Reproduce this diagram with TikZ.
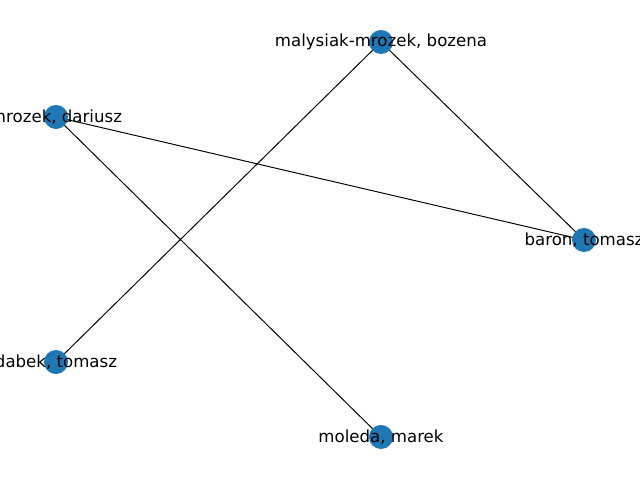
\documentclass[tikz,border=0pt]{standalone}
\usepackage{fontspec}
\setmainfont{DejaVu Sans}
\definecolor{nodeblue}{HTML}{1F77B4}
\begin{document}
\begin{tikzpicture}[x=0.01in,y=-0.01in,
    person/.style={circle,fill=nodeblue,minimum size=0.24in,inner sep=0pt},
    personlabel/.style={font=\fontsize{12}{14}\selectfont,inner sep=0pt,text=black},
    link/.style={draw=black,line width=0.7pt}]
  \clip (0,0) rectangle (640,480);
  \useasboundingbox (0,0) rectangle (640,480);
  \fill[white] (0,0) rectangle (640,480);

  \coordinate (malysiak) at (381,42);
  \coordinate (mrozek) at (56,117);
  \coordinate (baron) at (584,240);
  \coordinate (dabek) at (56,362);
  \coordinate (moleda) at (381,437);

  \draw[link] (malysiak) -- (baron);
  \draw[link] (malysiak) -- (dabek);
  \draw[link] (mrozek) -- (baron);
  \draw[link] (mrozek) -- (moleda);

  \node[person] (malysiakdot) at (malysiak) {};
  \node[person] (mrozekdot) at (mrozek) {};
  \node[person] (barondot) at (baron) {};
  \node[person] (dabekdot) at (dabek) {};
  \node[person] (moledadot) at (moleda) {};

  \node[personlabel] (malysiaklbl) at (malysiak) {malysiak-mrozek, bozena};
  \node[personlabel] (mrozeklbl) at (mrozek) {mrozek, dariusz};
  \node[personlabel] (baronlbl) at (baron) {baron, tomasz};
  \node[personlabel] (dabeklbl) at (dabek) {dabek, tomasz};
  \node[personlabel] (moledalbl) at (moleda) {moleda, marek};
\end{tikzpicture}
\end{document}
